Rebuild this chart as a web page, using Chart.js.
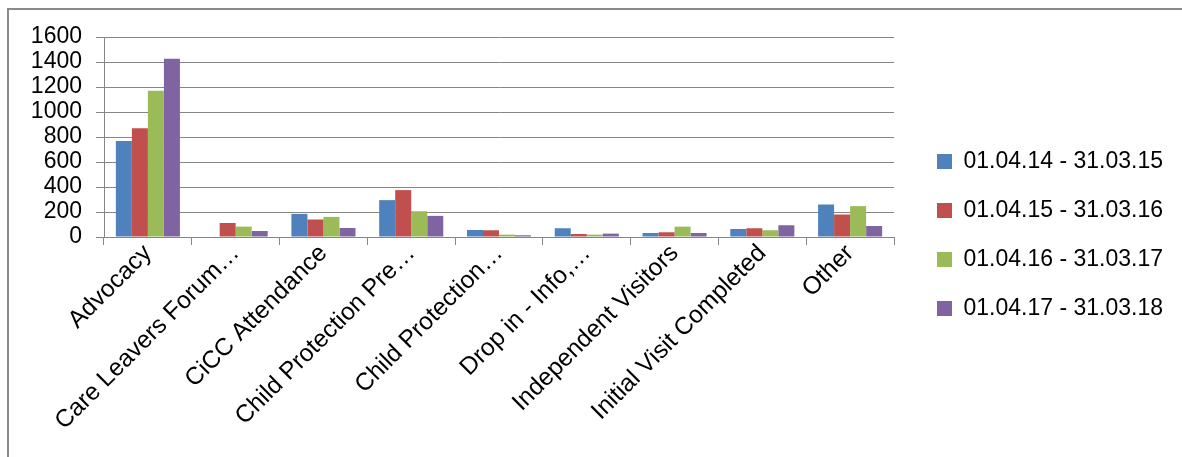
<!DOCTYPE html>
<html>
<head>
<meta charset="utf-8">
<script src="https://cdn.jsdelivr.net/npm/chart.js@4"></script>
<style>
  body { margin: 0; background: #fff; }
  #frame { position: absolute; left: 7px; top: 8px; width: 1180px; height: 460px; border-left: 2px solid #8a8a8a; border-top: 2px solid #8a8a8a; }
  #wrap { position: absolute; left: 0; top: 0; width: 1182px; height: 457px; }
</style>
</head>
<body>
<div id="frame"></div>
<div id="wrap"><canvas id="chart"></canvas></div>
<script>
const categories = ["Advocacy", "Care Leavers Forum…", "CiCC Attendance", "Child Protection Pre…", "Child Protection…",
  "Drop in - Info,…", "Independent Visitors", "Initial Visit Completed", "Other"];
const periods = ["01.04.14 - 31.03.15", "01.04.15 - 31.03.16", "01.04.16 - 31.03.17", "01.04.17 - 31.03.18"];
const y1415 = [769, 0, 185, 295, 56, 70, 32, 64, 260];
const y1516 = [871, 112, 140, 375, 54, 24, 38, 70, 180];
const y1617 = [1170, 83, 161, 206, 19, 19, 83, 54, 247];
const y1718 = [1427, 48, 72, 169, 14, 27, 32, 94, 88];
const colors = ["#4f81bd", "#c0504d", "#9bbb59", "#8064a2"];

const family = "'Liberation Sans', Arial, sans-serif";
const gridColor = "#868686";

// une série par période
const datasets = [y1415, y1516, y1617, y1718].map((vals, i) => ({
  label: periods[i],
  data: vals,
  backgroundColor: colors[i],
  categoryPercentage: 0.73,
  barPercentage: 1
}));

// élargir la légende (la zone du graphique s'arrête plus tôt) et la décaler un peu à droite
const legendPlace = {
  id: 'legendPlace',
  beforeInit(chart) {
    const fit = chart.legend.fit.bind(chart.legend);
    chart.legend.fit = function () { fit(); this.width += 26; };
  },
  afterLayout(chart) {
    chart.legend.left += 17;
  }
};

new Chart(document.getElementById("chart"), {
  type: 'bar',
  data: { labels: categories, datasets },
  plugins: [legendPlace],
  options: {
    responsive: true,
    maintainAspectRatio: false,
    animation: false,
    layout: { padding: { left: 10, top: 37, right: 0, bottom: 24 } },
    plugins: {
      tooltip: { enabled: false },
      legend: {
        position: 'right',
        labels: { font: { family, size: 23 }, color: '#000', boxWidth: 15, boxHeight: 15, padding: 26 }
      }
    },
    scales: {
      x: {
        grid: { display: true, drawOnChartArea: false, color: gridColor, tickLength: 8, offset: true },
        border: { color: gridColor },
        ticks: { font: { family, size: 24.5 }, color: '#000', maxRotation: 45, minRotation: 45, autoSkip: false, padding: -6 },
        afterFit: s => { s.height = 196; }
      },
      y: {
        min: 0, max: 1600,
        grid: { color: gridColor, tickLength: 8 },
        border: { color: gridColor },
        ticks: { font: { family, size: 23 }, color: '#000', stepSize: 200, autoSkip: false, padding: 14, callback: v => String(v) },
        afterFit: s => { s.width = 94; }
      }
    }
  }
});
</script>
</body>
</html>
